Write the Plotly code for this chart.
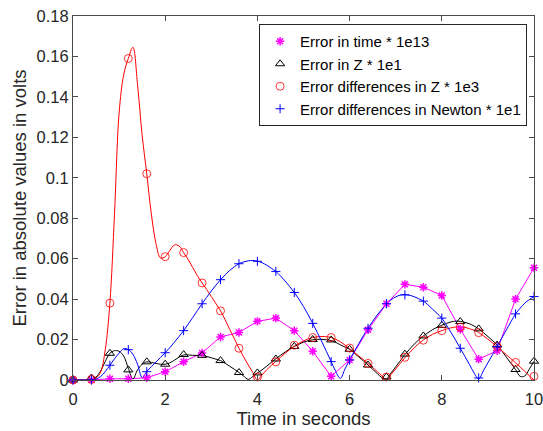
import plotly.graph_objects as go

# sample times
t_marks = [round(i * 0.4, 1) for i in range(26)]
t_fine = [round(i * 0.1, 1) for i in range(101)]

# marker values
time_err_marks = [0, 0, 0.0006, 0.0006, 0.0011, 0.0041, 0.009, 0.0134, 0.0213, 0.0235,
                  0.029, 0.0306, 0.0244, 0.0142, 0.0018, 0.0099, 0.0248, 0.0377, 0.0473,
                  0.0459, 0.0418, 0.0251, 0.0103, 0.0145, 0.040, 0.0555]
z_err_marks = [0, 0.001, 0.0132, 0.005, 0.009, 0.0078, 0.0126, 0.0122, 0.0096, 0.0037,
               0.0035, 0.0104, 0.0166, 0.020, 0.0198, 0.0152, 0.0074, 0.0015, 0.0128,
               0.0218, 0.027, 0.0289, 0.0253, 0.0173, 0.0052, 0.0093]
zdiff_marks = [0, 0.0003, 0.038, 0.159, 0.102, 0.061, 0.063, 0.048, 0.0342, 0.0157,
               0.0015, 0.009, 0.0172, 0.021, 0.021, 0.0158, 0.0082, 0.0015, 0.0112,
               0.0197, 0.0244, 0.0261, 0.0234, 0.0166, 0.0087, 0.0018]
newton_marks = [0, 0, 0.0073, 0.015, 0.0041, 0.0135, 0.0244, 0.0377, 0.0496, 0.0575,
                0.0587, 0.0537, 0.0433, 0.028, 0.0091, 0.0099, 0.0256, 0.0377, 0.0421,
                0.039, 0.0306, 0.0157, 0.001, 0.0165, 0.0327, 0.0413]

# smooth curve values (every 0.1 s)
zdiff_line = [0, 0, 0, 0, 0.0003, 0.001, 0.004, 0.015, 0.038, 0.082,
              0.132, 0.151, 0.159, 0.1645, 0.146, 0.121, 0.102, 0.082, 0.0675, 0.0603,
              0.061, 0.064, 0.0668, 0.0663, 0.063, 0.0595, 0.0555, 0.0515, 0.048, 0.0447,
              0.0413, 0.0378, 0.0342, 0.0298, 0.025, 0.0204, 0.0157, 0.0115, 0.0075, 0.0037,
              0.0, 0.0025, 0.005, 0.0072, 0.0092, 0.0112, 0.0132, 0.015, 0.0167, 0.0181,
              0.0193, 0.0203, 0.021, 0.0214, 0.0215, 0.0214, 0.021, 0.0201, 0.0189, 0.0173,
              0.0155, 0.0137, 0.0119, 0.0101, 0.0082, 0.0062, 0.0042, 0.0021, 0.0, 0.0027,
              0.0055, 0.0083, 0.011, 0.0135, 0.0159, 0.018, 0.0198, 0.0213, 0.0226, 0.0236,
              0.0244, 0.0252, 0.0258, 0.0262, 0.0262, 0.026, 0.0254, 0.0246, 0.0235, 0.0219,
              0.0202, 0.0184, 0.0165, 0.0145, 0.0125, 0.0105, 0.0085, 0.0064, 0.0043, 0.0021,
              0.0]
newton_line = [0, 0, 0, 0, 0, 0.0005, 0.0017, 0.0042, 0.0073, 0.0105,
               0.0133, 0.0155, 0.015, 0.0127, 0.0078, 0.0012, 0.0042, 0.0066, 0.0089, 0.0112,
               0.0135, 0.016, 0.0187, 0.0215, 0.0244, 0.0277, 0.031, 0.0344, 0.0377, 0.0409,
               0.044, 0.0469, 0.0496, 0.052, 0.0542, 0.056, 0.0575, 0.0584, 0.0589, 0.0591,
               0.0588, 0.058, 0.0568, 0.0553, 0.0537, 0.0515, 0.049, 0.0462, 0.0433, 0.040,
               0.0363, 0.0323, 0.028, 0.0235, 0.0188, 0.014, 0.0091, 0.0042, 0.0008, 0.0055,
               0.0099, 0.014, 0.018, 0.022, 0.0256, 0.029, 0.0322, 0.035, 0.0377, 0.0397,
               0.0411, 0.042, 0.0422, 0.0419, 0.0412, 0.0402, 0.039, 0.0372, 0.035, 0.0329,
               0.0306, 0.0272, 0.0235, 0.0197, 0.0157, 0.0117, 0.0077, 0.0035, 0.0005, 0.0045,
               0.0085, 0.0125, 0.0165, 0.0207, 0.0248, 0.0288, 0.0327, 0.0355, 0.038, 0.0398,
               0.0413]
z_err_line = [0, 0, 0, 0, 0.0005, 0.0015, 0.0045, 0.0092, 0.0132, 0.0145,
              0.0142, 0.0118, 0.0058, 0.0005, 0.005, 0.0078, 0.009, 0.0087, 0.0082, 0.0078,
              0.0078, 0.0085, 0.0098, 0.0113, 0.0124, 0.0124, 0.0122, 0.0121, 0.0121, 0.0116,
              0.011, 0.0103, 0.0096, 0.0083, 0.0068, 0.0053, 0.0037, 0.002, 0.0003, 0.0017,
              0.0035, 0.005, 0.0068, 0.0087, 0.0105, 0.0122, 0.0138, 0.0153, 0.0166, 0.0177,
              0.0187, 0.0194, 0.0199, 0.0201, 0.0201, 0.0199, 0.0195, 0.0186, 0.0174, 0.0163,
              0.0152, 0.0133, 0.0114, 0.0094, 0.0074, 0.0053, 0.0032, 0.0012, 0.0005, 0.0035,
              0.0065, 0.0095, 0.0126, 0.0152, 0.0177, 0.0199, 0.0218, 0.0234, 0.0249, 0.0261,
              0.0271, 0.028, 0.0287, 0.0291, 0.029, 0.0285, 0.0278, 0.0267, 0.0253, 0.0235,
              0.0215, 0.0195, 0.0173, 0.0145, 0.0113, 0.0082, 0.0052, 0.0018, 0.002, 0.0055,
              0.0092]

y_ticks = [0, 0.02, 0.04, 0.06, 0.08, 0.1, 0.12, 0.14, 0.16, 0.18]
y_tick_labels = ["0", "0.02", "0.04", "0.06", "0.08", "0.1", "0.12", "0.14", "0.16", "0.18"]
x_ticks = [0, 2, 4, 6, 8, 10]
x_tick_labels = ["0", "2", "4", "6", "8", "10"]

MAG = "#FF00FF"
BLK = "#000000"
RED = "#FF0000"
BLU = "#0000FF"

fig = go.Figure()

# lines (no legend)
fig.add_trace(go.Scatter(x=t_marks, y=time_err_marks, mode="lines",
                         line=dict(color=MAG, width=1), showlegend=False, hoverinfo="skip"))
fig.add_trace(go.Scatter(x=t_fine, y=z_err_line, mode="lines", line_shape="spline",
                         line=dict(color=BLK, width=1), showlegend=False, hoverinfo="skip"))
fig.add_trace(go.Scatter(x=t_fine, y=zdiff_line, mode="lines", line_shape="spline",
                         line=dict(color=RED, width=1), showlegend=False, hoverinfo="skip"))
fig.add_trace(go.Scatter(x=t_fine, y=newton_line, mode="lines", line_shape="spline",
                         line=dict(color=BLU, width=1), showlegend=False, hoverinfo="skip"))

# markers (legend)
fig.add_trace(go.Scatter(x=t_marks, y=time_err_marks, mode="markers", name="Error in time * 1e13",
                         marker=dict(symbol="asterisk-open", size=7, color=MAG,
                                     line=dict(color=MAG, width=1.5)), cliponaxis=False))
fig.add_trace(go.Scatter(x=t_marks, y=z_err_marks, mode="markers", name="Error in Z * 1e1",
                         marker=dict(symbol="triangle-up-open", size=8, color=BLK,
                                     line=dict(color=BLK, width=1)), cliponaxis=False))
fig.add_trace(go.Scatter(x=t_marks, y=zdiff_marks, mode="markers", name="Error differences in Z * 1e3",
                         marker=dict(symbol="circle-open", size=8, color=RED,
                                     line=dict(color=RED, width=0.8)), cliponaxis=False))
fig.add_trace(go.Scatter(x=t_marks, y=newton_marks, mode="markers", name="Error differences in Newton * 1e1",
                         marker=dict(symbol="cross-thin-open", size=6.5, color=BLU,
                                     line=dict(color=BLU, width=1)), cliponaxis=False))

axis_common = dict(showline=True, linecolor="#4a4a4a", linewidth=1, mirror="ticks",
                   ticks="inside", ticklen=5, tickcolor="#4a4a4a", tickwidth=1,
                   showgrid=False, zeroline=False, automargin=False,
                   ticklabeloverflow="allow",
                   tickfont=dict(family="Liberation Sans, Arial, sans-serif", size=16.5, color="#262626"))

fig.update_layout(
    width=543, height=431,
    margin=dict(l=73, r=9, t=16, b=51),
    paper_bgcolor="white", plot_bgcolor="white",
    font=dict(family="Liberation Sans, Arial, sans-serif", color="#262626"),
    xaxis=dict(range=[0, 10], tickvals=x_ticks, ticktext=x_tick_labels, ticklabelstandoff=4,
               title=dict(text="Time in seconds", font=dict(size=18.5, color="#262626"), standoff=5),
               **axis_common),
    yaxis=dict(range=[0, 0.18], tickvals=y_ticks, ticktext=y_tick_labels,
               title=dict(text="Error in absolute values in volts", font=dict(size=18.5, color="#262626"),
                          standoff=5),
               **axis_common),
    legend=dict(x=0.985, xanchor="right", y=0.978, yanchor="top",
                bgcolor="white", bordercolor="#262626", borderwidth=1,
                font=dict(size=15, color="#000000"), tracegroupgap=0),
    showlegend=True,
)

# remove the default page margin so the 543x431 figure fills the window exactly
fig.write_html("out.html", config={"displayModeBar": False},
               post_script="document.body.style.margin='0';")
